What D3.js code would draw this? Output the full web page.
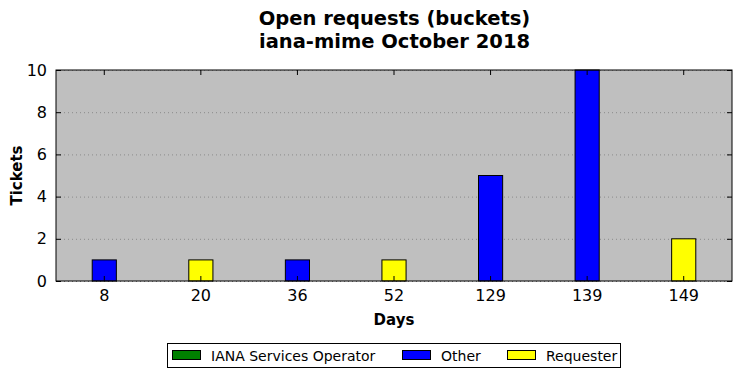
<!DOCTYPE html>
<html>
<head>
<meta charset="utf-8">
<script src="https://cdn.jsdelivr.net/npm/d3@7"></script>
<style>
  body { margin: 0; background: #fff; }
  text { font-family: "DejaVu Sans", sans-serif; }
</style>
</head>
<body>
<div id="chart"></div>
<script>
var chart_width  = 741;
var chart_height = 378;
var margin = {left: 56, right: 9, top: 70, bottom: 97};

// data
var days = ["8", "20", "36", "52", "129", "139", "149"];
var seriesNames = ["IANA Services Operator", "Other", "Requester"];
var seriesColors = ["#008000", "#0000ff", "#ffff00"];
var ianaValues = [0, 0, 0, 0, 0, 0, 0];
var otherValues = [1, 0, 1, 0, 5, 10, 0];
var requesterValues = [0, 1, 0, 1, 0, 0, 2];
var yTicks = [0, 2, 4, 6, 8, 10];

var rows = days.map(function(d, i) {
  return {day: d, "IANA Services Operator": ianaValues[i], "Other": otherValues[i], "Requester": requesterValues[i]};
});
var stacked = d3.stack().keys(seriesNames)(rows);

var w = chart_width - margin.left - margin.right;
var h = chart_height - margin.top - margin.bottom;

var x = d3.scaleBand().domain(days).range([0, w]).padding(0);
var y = d3.scaleLinear().domain([0, 10]).range([h, 0]);
var barW = x.bandwidth() * 0.25;

var svg = d3.select("#chart").append("svg")
  .attr("width", chart_width)
  .attr("height", chart_height);

// title
svg.append("text").attr("x", 394.5).attr("y", 25).attr("text-anchor", "middle")
  .style("font-size", "19.5px").style("font-weight", "bold").text("Open requests (buckets)");
svg.append("text").attr("x", 394.5).attr("y", 48).attr("text-anchor", "middle")
  .style("font-size", "19.5px").style("font-weight", "bold").text("iana-mime October 2018");

var g = svg.append("g").attr("transform", "translate(" + margin.left + "," + margin.top + ")");

g.append("rect").attr("width", w).attr("height", h).style("fill", "#bfbfbf");

// dotted grid
g.selectAll(".grid").data(yTicks).enter().append("line")
  .attr("x1", 0).attr("x2", w)
  .attr("y1", function(d) { return y(d) + 0.5; })
  .attr("y2", function(d) { return y(d) + 0.5; })
  .style("stroke", "#8a8a8a").style("stroke-width", 1).style("stroke-dasharray", "1,3");

// bars
g.selectAll(".layer").data(stacked).enter().append("g")
  .style("fill", function(d, i) { return seriesColors[i]; })
  .selectAll("rect").data(function(d) { return d; }).enter()
  .filter(function(d) { return d[1] - d[0] > 0; })
  .append("rect")
  .attr("x", function(d) { return x(d.data.day) + (x.bandwidth() - barW) / 2; })
  .attr("y", function(d) { return y(d[1]); })
  .attr("width", barW)
  .attr("height", function(d) { return y(d[0]) - y(d[1]); })
  .style("stroke", "#000").style("stroke-width", 1);

// axes, ticks pointing in
var fs = "16px";
var xAxisB = g.append("g").attr("transform", "translate(0," + h + ")")
  .call(d3.axisBottom(x).tickSizeInner(-5).tickSizeOuter(0).tickPadding(9));
var xAxisT = g.append("g").call(d3.axisTop(x).tickSizeInner(-5).tickSizeOuter(0).tickFormat(""));
var yAxisL = g.append("g")
  .call(d3.axisLeft(y).tickValues(yTicks).tickSizeInner(-5).tickSizeOuter(0).tickPadding(9));
var yAxisR = g.append("g").attr("transform", "translate(" + w + ",0)")
  .call(d3.axisRight(y).tickValues(yTicks).tickSizeInner(-5).tickSizeOuter(0).tickFormat(""));
[xAxisB, xAxisT, yAxisL, yAxisR].forEach(function(a) {
  a.select(".domain").remove();
  a.selectAll("line").style("stroke", "#000");
  a.selectAll("text").style("font-size", fs).style("font-family", "DejaVu Sans, sans-serif").style("fill", "#000");
});

g.append("rect").attr("width", w).attr("height", h)
  .style("fill", "none").style("stroke", "#000").style("stroke-width", 1);

// axis labels
svg.append("text").attr("x", margin.left + w / 2).attr("y", 325).attr("text-anchor", "middle")
  .style("font-size", "15px").style("font-weight", "bold").text("Days");
svg.append("text").attr("transform", "translate(22," + (margin.top + h / 2) + ") rotate(-90)")
  .attr("text-anchor", "middle").style("font-size", "15px").style("font-weight", "bold").text("Tickets");

// legend
var legend = svg.append("g");
legend.append("rect").attr("x", 167.5).attr("y", 343.5).attr("width", 453).attr("height", 24)
  .style("fill", "#fff").style("stroke", "#000");
var legX = [172, 402, 507];
seriesNames.forEach(function(n, i) {
  legend.append("rect").attr("x", legX[i] + 0.5).attr("y", 350.5).attr("width", 28).attr("height", 9)
    .style("fill", seriesColors[i]).style("stroke", "#000");
  legend.append("text").attr("x", legX[i] + 39).attr("y", 360.5)
    .style("font-size", "14px").text(n);
});
</script>
</body>
</html>
